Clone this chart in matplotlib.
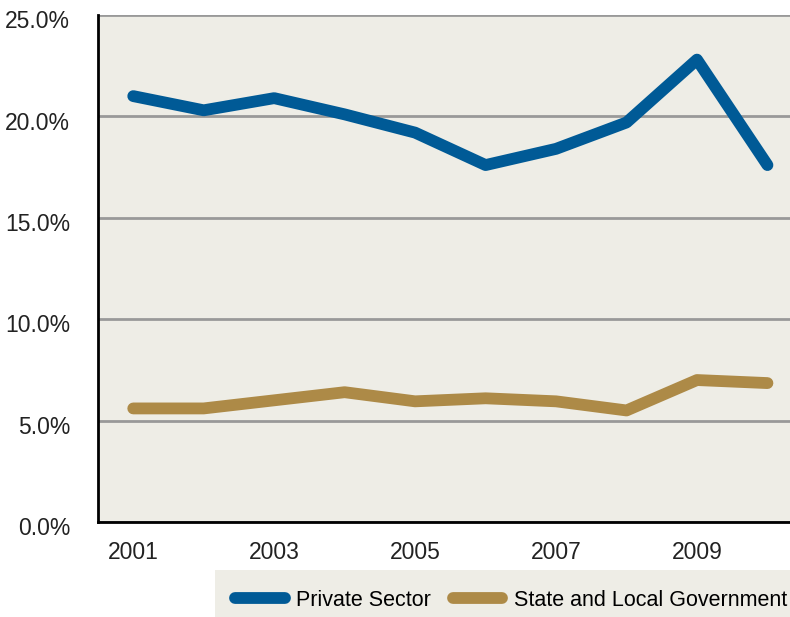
import matplotlib.pyplot as plt
from matplotlib.patches import Rectangle
from matplotlib.ticker import FuncFormatter
from matplotlib.transforms import ScaledTranslation

plt.rcParams['font.family'] = ['Liberation Sans', 'DejaVu Sans']

years = [2001, 2002, 2003, 2004, 2005, 2006, 2007, 2008, 2009, 2010]
private_sector = [21.0, 20.3, 20.9, 20.1, 19.2, 17.6, 18.4, 19.7, 22.8, 17.6]
state_local = [5.6, 5.6, 6.0, 6.4, 5.95, 6.1, 5.95, 5.5, 7.0, 6.85]
xticks = [2001, 2003, 2005, 2007, 2009]
yticks = [0, 5, 10, 15, 20, 25]

blue = '#005a96'
tan = '#ad8a47'
panel = '#eeede6'

fig = plt.figure(figsize=(7.9, 6.17), dpi=100)
W, H = 790, 617
ax = fig.add_axes([98 / W, (H - 522) / H, (W - 98) / W, (522 - 15) / H])
ax.set_facecolor(panel)

ax.plot(years, private_sector, color=blue, lw=8.5, solid_capstyle='round',
        solid_joinstyle='round', label='Private Sector', zorder=3)
ax.plot(years, state_local, color=tan, lw=8.5, solid_capstyle='round',
        solid_joinstyle='round', label='State and Local Government', zorder=3)

ax.set_ylim(0, 25)
ax.set_xlim(2000.5, 2010.32)
ax.set_yticks(yticks)
ax.set_xticks(xticks)
ax.yaxis.set_major_formatter(FuncFormatter(lambda v, p: f'{v:.1f}%'))
ax.grid(axis='y', color='#999999', lw=2, zorder=1)
ax.tick_params(length=0, labelsize=16.5, colors='#222222')
ax.tick_params(axis='y', pad=20)
ax.tick_params(axis='x', pad=14)
# percent labels sit a little below their gridlines
shift = ScaledTranslation(0, -3 / 72, fig.dpi_scale_trans)
for lbl in ax.get_yticklabels():
    lbl.set_transform(lbl.get_transform() + shift)
for s in ['top', 'right']:
    ax.spines[s].set_visible(False)
for s in ['left', 'bottom']:
    ax.spines[s].set_linewidth(2)
    ax.spines[s].set_color('black')

# legend panel under the plot
fig.patches.append(Rectangle((215 / W, 0), (W - 215) / W, 47 / H,
                             transform=fig.transFigure, facecolor=panel,
                             edgecolor='none', zorder=0))
handles, labels = ax.get_legend_handles_labels()
fig.legend(handles, labels, loc='center left', bbox_to_anchor=(235 / W, 17 / H),
           ncol=2, frameon=False, fontsize=15.5, handlelength=2.3,
           handletextpad=0.55, columnspacing=1.0, borderaxespad=0,
           borderpad=0)

fig.savefig('out.png', dpi=100)
